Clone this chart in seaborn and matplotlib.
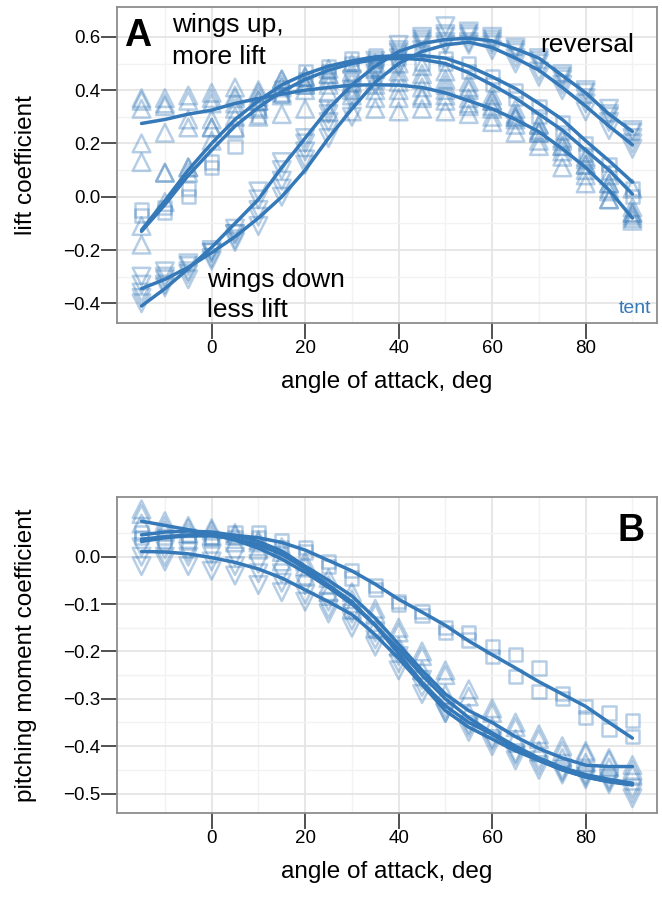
import numpy as np
import pandas as pd
import matplotlib
matplotlib.use('Agg')
import matplotlib.pyplot as plt
import seaborn as sns
from matplotlib.ticker import FixedLocator

sns.set_style('white')
plt.rcParams['font.family'] = ['Liberation Sans', 'DejaVu Sans']
plt.rcParams['text.color'] = 'black'
plt.rcParams['axes.labelcolor'] = 'black'

BLUE = '#3579b9'

angle = [-15, -10, -5, 0, 5, 10, 15, 20, 25, 30, 35, 40, 45, 50, 55, 60, 65, 70, 75, 80, 85, 90]

# ---- panel A : lift coefficient, fitted curves
lift_fit_flat = [0.275, 0.29, 0.31, 0.325, 0.35, 0.369, 0.385, 0.40, 0.41, 0.419, 0.42, 0.419,
                 0.41, 0.39, 0.36, 0.33, 0.29, 0.244, 0.18, 0.11, 0.025, -0.08]
lift_fit_mid1 = [-0.125, -0.015, 0.10, 0.20, 0.29, 0.36, 0.42, 0.46, 0.49, 0.51, 0.525, 0.53,
                 0.53, 0.52, 0.49, 0.45, 0.406, 0.35, 0.29, 0.21, 0.135, 0.055]
lift_fit_mid2 = [-0.13, -0.03, 0.08, 0.175, 0.265, 0.335, 0.395, 0.44, 0.475, 0.50, 0.515, 0.52,
                 0.515, 0.50, 0.465, 0.42, 0.37, 0.31, 0.25, 0.175, 0.10, 0.01]
lift_fit_steep1 = [-0.345, -0.31, -0.265, -0.21, -0.15, -0.08, 0.0, 0.10, 0.22, 0.33, 0.43, 0.50,
                   0.545, 0.57, 0.58, 0.56, 0.52, 0.475, 0.41, 0.34, 0.265, 0.195]
lift_fit_steep2 = [-0.41, -0.345, -0.27, -0.19, -0.10, -0.01, 0.11, 0.22, 0.33, 0.42, 0.49, 0.545,
                   0.575, 0.59, 0.595, 0.585, 0.555, 0.52, 0.455, 0.39, 0.31, 0.245]

# panel A : measured points
lift_up_a = [0.37, 0.37, 0.38, 0.39, 0.41, 0.40, 0.44, 0.45, 0.46, 0.45, 0.44, 0.43, 0.44, 0.42,
             0.40, 0.36, 0.30, 0.25, 0.15, 0.08, -0.01, -0.06]
lift_up_b = [0.33, 0.34, 0.29, 0.29, 0.33, 0.30, 0.31, 0.33, 0.32, 0.32, 0.33, 0.32, 0.33, 0.32,
             0.31, 0.28, 0.24, 0.19, 0.11, 0.05, -0.01, -0.09]
lift_up_c = [0.20, 0.24, 0.26, 0.26, 0.35, 0.375, 0.41, 0.40, 0.39, 0.38, 0.37, 0.40, 0.37, 0.36,
             0.34, 0.33, 0.29, 0.24, 0.19, 0.12, 0.03, -0.07]
lift_up_d = [0.13, 0.09, 0.11, 0.35, 0.38, 0.36, 0.38, 0.43, 0.42, 0.40, 0.40, 0.37, 0.38, 0.38,
             0.35, 0.30, 0.27, 0.21, 0.17, 0.10, 0.02, -0.08]
lift_up_e = [0.36, 0.35, 0.36, 0.37, 0.37, 0.39, 0.42, 0.42, 0.44, 0.43, 0.42, 0.45, 0.41, 0.40,
             0.37, 0.34, 0.31, 0.27, 0.21, 0.14, 0.05, -0.04]
lift_sq_a = [-0.05, -0.04, 0.03, 0.13, 0.25, 0.33, 0.41, 0.47, 0.49, 0.52, 0.53, 0.54, 0.54, 0.52,
             0.50, 0.45, 0.40, 0.34, 0.28, 0.20, 0.12, 0.03]
lift_sq_b = [-0.07, -0.06, 0.00, 0.11, 0.19, 0.30, 0.38, 0.44, 0.47, 0.50, 0.51, 0.52, 0.50, 0.50,
             0.47, 0.42, 0.37, 0.30, 0.24, 0.16, 0.09, 0.00]
lift_mt_a = [-0.18, 0.09, 0.11, 0.26, 0.30, 0.36, 0.44, 0.45, 0.48, 0.50, 0.50, 0.50, 0.49, 0.47,
             0.43, 0.38, 0.33, 0.27, 0.22, 0.15, 0.08, 0.03]
lift_mt_b = [-0.11, -0.02, 0.09, 0.21, 0.26, 0.33, 0.39, 0.42, 0.46, 0.47, 0.48, 0.47, 0.46, 0.44,
             0.41, 0.36, 0.30, 0.24, 0.19, 0.12, 0.05, -0.06]
lift_dn_a = [-0.30, -0.31, -0.29, -0.23, -0.16, -0.075, 0.00, 0.12, 0.22, 0.36, 0.46, 0.52, 0.57,
             0.58, 0.58, 0.57, 0.52, 0.47, 0.42, 0.35, 0.28, 0.18]
lift_dn_b = [-0.36, -0.34, -0.31, -0.21, -0.14, -0.11, 0.03, 0.14, 0.25, 0.30, 0.42, 0.49, 0.55,
             0.57, 0.57, 0.55, 0.50, 0.45, 0.40, 0.32, 0.25, 0.20]
lift_dn_c = [-0.40, -0.28, -0.26, -0.21, -0.14, -0.01, 0.13, 0.20, 0.31, 0.40, 0.49, 0.55, 0.59,
             0.60, 0.61, 0.60, 0.56, 0.52, 0.46, 0.40, 0.33, 0.25]
lift_dn_d = [-0.38, -0.33, -0.28, -0.20, -0.12, 0.02, 0.10, 0.22, 0.33, 0.44, 0.51, 0.57, 0.60,
             0.64, 0.60, 0.58, 0.54, 0.50, 0.44, 0.37, 0.30, 0.22]
lift_dn_e = [-0.33, -0.30, -0.25, -0.24, -0.17, -0.05, 0.06, 0.17, 0.28, 0.38, 0.47, 0.54, 0.58,
             0.61, 0.62, 0.59, 0.55, 0.51, 0.45, 0.39, 0.31, 0.24]

# ---- panel B : pitching moment coefficient, fitted curves
pitch_fit_sq = [0.037, 0.042, 0.046, 0.047, 0.045, 0.04, 0.03, 0.014, -0.008, -0.03, -0.058, -0.09,
                -0.117, -0.145, -0.178, -0.207, -0.235, -0.264, -0.29, -0.316, -0.35, -0.383]
pitch_fit_1 = [0.075, 0.066, 0.057, 0.047, 0.035, 0.018, -0.005, -0.033, -0.065, -0.10, -0.145,
               -0.195, -0.25, -0.30, -0.34, -0.372, -0.40, -0.425, -0.445, -0.46, -0.47, -0.478]
pitch_fit_2 = [0.046, 0.052, 0.054, 0.052, 0.045, 0.032, 0.012, -0.02, -0.05, -0.083, -0.13,
               -0.185, -0.24, -0.29, -0.325, -0.35, -0.38, -0.405, -0.425, -0.44, -0.443, -0.443]
pitch_fit_3 = [0.032, 0.04, 0.044, 0.044, 0.038, 0.025, 0.005, -0.025, -0.06, -0.095, -0.145,
               -0.205, -0.265, -0.315, -0.35, -0.375, -0.405, -0.43, -0.45, -0.465, -0.475, -0.48]
pitch_fit_4 = [0.011, 0.01, 0.006, -0.002, -0.012, -0.026, -0.045, -0.07, -0.095, -0.122, -0.165,
               -0.215, -0.27, -0.325, -0.36, -0.385, -0.41, -0.43, -0.45, -0.465, -0.475, -0.482]

# panel B : measured points
pitch_sq_a = [0.04, 0.04, 0.03, 0.04, 0.05, 0.05, 0.035, 0.01, -0.02, -0.045, -0.07, -0.095, -0.125,
              -0.15, -0.16, -0.19, -0.207, -0.235, -0.288, -0.316, -0.33, -0.345]
pitch_sq_b = [0.05, 0.03, 0.045, 0.035, 0.04, 0.04, 0.02, 0.02, -0.01, -0.03, -0.06, -0.10, -0.115,
              -0.16, -0.176, -0.21, -0.253, -0.285, -0.30, -0.34, -0.365, -0.38]
pitch_up_a = [0.09, 0.065, 0.06, 0.055, 0.045, 0.03, 0.01, -0.02, -0.06, -0.09, -0.12, -0.16, -0.21,
              -0.25, -0.295, -0.33, -0.36, -0.385, -0.41, -0.415, -0.43, -0.45]
pitch_up_b = [0.07, 0.055, 0.05, 0.045, 0.03, 0.015, -0.01, -0.04, -0.075, -0.11, -0.15, -0.19,
              -0.24, -0.29, -0.33, -0.36, -0.385, -0.41, -0.425, -0.435, -0.445, -0.46]
pitch_up_c = [0.10, 0.075, 0.065, 0.06, 0.05, 0.035, 0.02, -0.01, -0.045, -0.075, -0.11, -0.15,
              -0.20, -0.24, -0.28, -0.32, -0.35, -0.375, -0.40, -0.41, -0.425, -0.44]
pitch_dn_a = [-0.02, -0.01, -0.02, -0.03, -0.04, -0.06, -0.075, -0.095, -0.12, -0.15, -0.19, -0.24,
              -0.29, -0.33, -0.37, -0.40, -0.43, -0.45, -0.46, -0.47, -0.48, -0.50]
pitch_dn_b = [0.02, 0.015, 0.01, 0.005, 0.0, -0.015, -0.035, -0.06, -0.095, -0.12, -0.16, -0.21,
              -0.26, -0.32, -0.355, -0.385, -0.415, -0.43, -0.45, -0.46, -0.47, -0.49]
pitch_dn_c = [0.0, 0.0, 0.0, -0.01, -0.02, -0.035, -0.055, -0.08, -0.11, -0.135, -0.175, -0.225,
              -0.275, -0.33, -0.36, -0.39, -0.42, -0.44, -0.455, -0.465, -0.475, -0.51]

TRI = 160   # marker area for triangles
SQ = 90     # marker area for squares

lift_points = [(lift_up_a, '^', TRI), (lift_up_b, '^', TRI), (lift_up_c, '^', TRI), (lift_up_d, '^', TRI),
               (lift_up_e, '^', TRI), (lift_sq_a, 's', SQ), (lift_sq_b, 's', SQ),
               (lift_mt_a, '^', TRI), (lift_mt_b, '^', TRI),
               (lift_dn_a, 'v', TRI), (lift_dn_b, 'v', TRI), (lift_dn_c, 'v', TRI), (lift_dn_d, 'v', TRI),
               (lift_dn_e, 'v', TRI)]
lift_fits = [lift_fit_flat, lift_fit_mid1, lift_fit_mid2, lift_fit_steep1, lift_fit_steep2]

pitch_points = [(pitch_sq_a, 's', SQ), (pitch_sq_b, 's', SQ), (pitch_up_a, '^', TRI), (pitch_up_b, '^', TRI),
                (pitch_up_c, '^', TRI), (pitch_dn_a, 'v', TRI), (pitch_dn_b, 'v', TRI), (pitch_dn_c, 'v', TRI)]
pitch_fits = [pitch_fit_sq, pitch_fit_1, pitch_fit_2, pitch_fit_3, pitch_fit_4]


def draw_panel(ax, points, fits, ylim, ymajor, yminor):
    for vals, mk, size in points:
        sns.scatterplot(x=angle, y=vals, marker=mk, s=size, color=BLUE, facecolor='none',
                        edgecolor=BLUE, linewidth=1.8, alpha=0.36, ax=ax, legend=False, zorder=2)
    for vals in fits:
        sns.lineplot(x=angle, y=vals, color=BLUE, lw=2.5, ax=ax, legend=False, zorder=3)
    ax.set_xlim(-20.25, 95.25)
    ax.set_ylim(*ylim)
    ax.xaxis.set_major_locator(FixedLocator([0, 20, 40, 60, 80]))
    ax.xaxis.set_minor_locator(FixedLocator([-10, 10, 30, 50, 70, 90]))
    ax.yaxis.set_major_locator(FixedLocator(ymajor))
    ax.yaxis.set_minor_locator(FixedLocator(yminor))
    ax.grid(which='major', color='#e3e3e3', lw=1.2, zorder=0)
    ax.grid(which='minor', color='#f2f2f2', lw=1.0, zorder=0)
    ax.set_axisbelow(True)
    for sp in ax.spines.values():
        sp.set_color('#8c8c8c')
        sp.set_linewidth(1.3)
    ax.tick_params(which='major', bottom=True, left=True, direction='out', length=11.5, width=1.1,
                   color='#222222', labelsize=13.5, labelcolor='black', pad=0.5)
    ax.tick_params(which='minor', bottom=False, left=False, length=0)
    ax.set_xlabel('angle of attack, deg', fontsize=17.5, labelpad=10)


fig = plt.figure(figsize=(6.62, 9.01), dpi=100)
axA = fig.add_axes([0.1767, 0.6415, 0.8157, 0.3507])
axB = fig.add_axes([0.1767, 0.0977, 0.8157, 0.3507])

draw_panel(axA, lift_points, lift_fits, (-0.474, 0.712),
           [-0.4, -0.2, 0.0, 0.2, 0.4, 0.6], [-0.3, -0.1, 0.1, 0.3, 0.5])
axA.yaxis.set_major_formatter(plt.FuncFormatter(lambda v, p: f'{v:.1f}'.replace('-', '\u2212')))
axA.set_ylabel('lift coefficient', fontsize=17.5)
axA.yaxis.set_label_coords(-0.148, 0.5)

draw_panel(axB, pitch_points, pitch_fits, (-0.541, 0.126),
           [-0.5, -0.4, -0.3, -0.2, -0.1, 0.0], [-0.45, -0.35, -0.25, -0.15, -0.05, 0.05])
axB.yaxis.set_major_formatter(plt.FuncFormatter(lambda v, p: f'{v:.1f}'.replace('-', '\u2212')))
axB.set_ylabel('pitching moment coefficient', fontsize=17.5)
axB.yaxis.set_label_coords(-0.148, 0.5)

# annotations
axA.text(-18.7, 0.672, 'A', fontsize=27, fontweight='bold', ha='left', va='top')
axA.text(-8.4, 0.619, 'wings up,', fontsize=19, ha='left', va='baseline')
axA.text(-8.4, 0.50, 'more lift', fontsize=19, ha='left', va='baseline')
axA.text(70.2, 0.542, 'reversal', fontsize=19, ha='left', va='baseline')
axA.text(-0.9, -0.338, 'wings down', fontsize=19, ha='left', va='baseline')
axA.text(-0.9, -0.45, 'less lift', fontsize=19, ha='left', va='baseline')
axA.text(94.0, -0.436, 'tent', fontsize=14, color=BLUE, ha='right', va='baseline')
axB.text(92.7, 0.092, 'B', fontsize=27, fontweight='bold', ha='right', va='top')

fig.savefig('out.png', dpi=100)
